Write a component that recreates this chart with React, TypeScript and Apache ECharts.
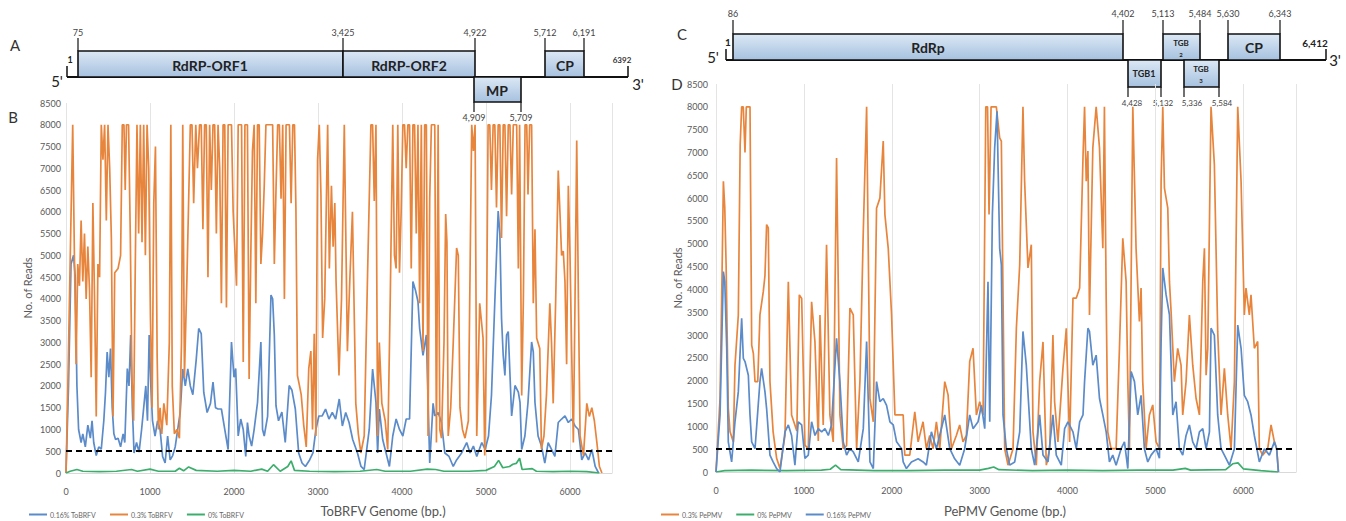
import React, { useEffect, useRef } from "react";
import * as echarts from "echarts";

const FONT = "Lato, 'Noto Sans', sans-serif";
const ORANGE = "#E8853D";
const BLUE = "#5B8BC9";
const GREEN = "#3BAE6C";
const THRESHOLD = 500;

// ToBRFV coverage [bp, reads]
const TOBRFV_016: [number, number][] = [
  [0,0],[30,2000],[60,4800],[90,5000],[110,4500],[130,2000],[150,1000],[180,700],[200,900],[230,600],[260,1100],[290,800],[310,1200],[330,700],[360,400],[390,600],[420,550],[450,1200],[470,1850],[490,2780],[510,2200],[530,2860],[550,1500],[570,900],[590,770],[620,800],[650,600],[680,900],[700,700],[730,2400],[750,2000],[770,3170],[790,1500],[810,460],[840,700],[870,480],[900,1000],[920,1400],[950,2000],[970,1200],[990,3170],[1010,2000],[1030,1200],[1060,850],[1090,1200],[1120,1000],[1150,380],[1180,230],[1210,850],[1240,300],[1270,400],[1300,600],[1330,1000],[1360,1400],[1390,2390],[1420,2000],[1450,2390],[1480,2000],[1510,1800],[1550,2600],[1580,3320],[1610,3200],[1640,1850],[1680,1390],[1720,1600],[1750,2090],[1780,1500],[1810,1470],[1850,1470],[1890,1000],[1930,540],[1970,3010],[2000,2200],[2020,2400],[2050,850],[2080,1240],[2110,1000],[2140,380],[2160,1160],[2180,850],[2210,620],[2240,1000],[2280,1620],[2320,3010],[2340,1000],[2360,850],[2400,1300],[2440,4090],[2460,4000],[2480,3170],[2500,1540],[2530,1200],[2570,1400],[2610,700],[2657,2010],[2690,1900],[2730,1470],[2770,460],[2810,230],[2850,150],[2900,300],[2940,460],[2975,1000],[3010,1310],[3050,1310],[3090,1470],[3130,1240],[3170,1390],[3210,1240],[3253,1700],[3290,1080],[3330,1390],[3370,1160],[3413,770],[3470,460],[3512,150],[3550,80],[3610,1000],[3650,2390],[3690,1620],[3710,460],[3730,1470],[3770,770],[3810,460],[3850,150],[3890,850],[3930,1240],[3970,1000],[4010,850],[4050,1240],[4090,1240],[4130,4400],[4160,4200],[4190,3940],[4210,3320],[4250,2700],[4290,3170],[4330,230],[4370,1600],[4390,1310],[4430,1390],[4470,1160],[4510,460],[4560,380],[4610,150],[4650,300],[4710,460],[4770,700],[4810,460],[4850,620],[4890,380],[4950,700],[4990,540],[5030,850],[5065,1780],[5105,3940],[5145,6020],[5165,5500],[5185,3550],[5205,2700],[5225,2240],[5245,3170],[5265,3250],[5305,1310],[5345,2010],[5385,1860],[5405,1620],[5425,540],[5463,850],[5500,1620],[5543,3010],[5563,2780],[5583,1620],[5620,850],[5660,620],[5700,230],[5740,700],[5780,540],[5820,380],[5860,1160],[5900,1240],[5940,1310],[5980,1160],[6020,1240],[6060,1080],[6100,1000],[6140,300],[6180,460],[6220,300],[6260,540],[6300,150],[6340,0]
];
const TOBRFV_030: [number, number][] = [
  [0,0],[20,1800],[50,4900],[80,8000],[100,5000],[120,2500],[140,4800],[160,4300],[180,5800],[200,4400],[220,5500],[240,4000],[260,5200],[280,4200],[300,2200],[320,6200],[340,4000],[360,1300],[380,4800],[400,4500],[420,8000],[440,7200],[460,8000],[480,5800],[500,8000],[520,7000],[540,5400],[560,1300],[580,4600],[620,4700],[650,5000],[670,8000],[690,8000],[705,6500],[720,8000],[745,8000],[765,5500],[785,2200],[805,1200],[825,4800],[845,8000],[865,5500],[885,8000],[905,5300],[925,8000],[945,5000],[965,8000],[985,7000],[1005,3600],[1025,1500],[1045,6200],[1065,7500],[1085,2700],[1100,1000],[1120,1500],[1140,900],[1165,1600],[1200,1100],[1230,3000],[1248,8000],[1265,2000],[1290,900],[1320,1000],[1350,800],[1375,3000],[1390,8000],[1410,2200],[1440,4500],[1480,8000],[1500,8000],[1520,6200],[1545,8000],[1565,7000],[1590,8000],[1610,8000],[1630,5600],[1650,8000],[1670,8000],[1690,4500],[1710,8000],[1730,6500],[1750,8000],[1770,8000],[1790,5500],[1810,8000],[1830,7000],[1850,3900],[1870,8000],[1890,8000],[1910,3800],[1930,8000],[1950,8000],[1970,8000],[1990,6000],[2030,4300],[2050,8000],[2070,8000],[2090,8000],[2110,2550],[2130,8000],[2160,8000],[2180,2160],[2200,5000],[2220,7400],[2240,8000],[2260,3900],[2280,8000],[2300,8000],[2320,4800],[2340,5500],[2360,6600],[2380,8000],[2400,8000],[2420,8000],[2440,8000],[2460,8000],[2480,4800],[2500,6500],[2520,8000],[2540,8000],[2560,6300],[2580,8000],[2600,4000],[2620,8000],[2640,8000],[2660,8000],[2680,6200],[2700,8000],[2720,8000],[2737,6100],[2755,2240],[2780,2000],[2800,1800],[2830,1100],[2860,600],[2890,2400],[2915,2800],[2935,1000],[2955,3200],[2975,850],[2995,7200],[3015,8000],[3035,6400],[3055,3100],[3080,4000],[3115,8000],[3135,4700],[3160,6600],[3180,5200],[3200,6200],[3215,4400],[3250,2240],[3280,4000],[3313,8000],[3350,2800],[3380,4500],[3410,6000],[3450,1600],[3480,900],[3510,460],[3550,850],[3590,4560],[3630,8000],[3650,8000],[3670,6250],[3690,8000],[3710,850],[3730,3000],[3760,1600],[3800,1200],[3830,540],[3860,4000],[3890,8000],[3910,5000],[3930,4700],[3950,8000],[3970,4600],[3990,6000],[4010,8000],[4030,8000],[4050,7000],[4070,8000],[4090,8000],[4110,4700],[4130,8000],[4150,8000],[4170,5500],[4190,8000],[4210,3900],[4230,8000],[4250,2800],[4270,8000],[4290,8000],[4310,850],[4330,6300],[4350,8000],[4370,8000],[4390,8000],[4410,700],[4430,8000],[4450,1000],[4470,800],[4500,3000],[4520,5950],[4535,5300],[4550,850],[4580,1500],[4610,3000],[4650,5170],[4670,5000],[4690,1500],[4720,1000],[4750,800],[4790,1200],[4830,8000],[4850,7400],[4870,8000],[4890,850],[4925,3900],[4945,3500],[4965,3100],[4985,400],[5005,3000],[5025,8000],[5045,8000],[5065,6500],[5085,8000],[5105,8000],[5125,6100],[5145,8000],[5165,8000],[5185,5400],[5205,8000],[5225,8000],[5245,5900],[5265,8000],[5285,8000],[5305,6400],[5325,8000],[5345,8000],[5365,8000],[5385,4700],[5400,8000],[5425,1780],[5445,4000],[5465,8000],[5485,8000],[5500,6400],[5520,8000],[5543,8000],[5563,3900],[5583,5600],[5603,3100],[5640,2860],[5660,550],[5690,850],[5720,1800],[5760,3900],[5780,3000],[5800,1600],[5830,4000],[5860,6950],[5880,6000],[5900,5000],[5920,5100],[5940,4400],[5960,2500],[5980,6600],[6000,5000],[6020,2780],[6040,700],[6060,4000],[6080,7640],[6100,4000],[6120,850],[6160,400],[6200,1600],[6230,1300],[6260,1500],[6290,1200],[6320,700],[6350,150],[6380,0]
];
const TOBRFV_000: [number, number][] = [
  [0,0],[50,40],[130,80],[200,40],[400,30],[600,40],[780,80],[850,40],[1000,90],[1100,40],[1300,40],[1350,110],[1400,50],[1460,140],[1550,60],[1800,40],[2000,60],[2200,40],[2330,90],[2400,40],[2470,190],[2550,40],[2640,150],[2680,280],[2720,60],[2900,40],[3200,30],[3500,40],[3700,80],[3800,40],[4100,40],[4300,90],[4400,80],[4500,40],[4800,40],[5000,60],[5100,150],[5150,290],[5200,120],[5280,150],[5320,200],[5360,220],[5400,340],[5430,80],[5550,100],[5600,40],[5800,30],[6000,40],[6200,30],[6350,0]
];

// PePMV coverage [bp, reads]
const PEPMV_030: [number, number][] = [
  [0,0],[46,1610],[70,4500],[84,6370],[100,5780],[115,4540],[140,1390],[160,880],[197,660],[216,2340],[254,3440],[275,7170],[292,8000],[310,8000],[330,7000],[345,8000],[365,8000],[387,8000],[406,2780],[425,2600],[444,1980],[475,1980],[500,3440],[538,3950],[557,4300],[576,5420],[595,5350],[614,1980],[650,880],[690,300],[728,75],[785,800],[823,4170],[860,1250],[920,900],[948,3880],[975,3800],[1012,590],[1050,510],[1088,3730],[1126,2850],[1164,680],[1183,3440],[1220,1030],[1258,4980],[1296,1250],[1334,660],[1372,6880],[1391,4170],[1410,1250],[1448,510],[1486,580],[1524,3590],[1562,3440],[1600,510],[1638,2000],[1676,5270],[1714,8000],[1752,1610],[1790,1100],[1827,5780],[1865,6000],[1903,7250],[1922,5640],[1960,4900],[1998,3440],[2036,1250],[2074,1250],[2130,1250],[2148,370],[2205,370],[2262,1320],[2300,660],[2356,1100],[2394,510],[2432,800],[2470,510],[2508,1100],[2546,510],[2603,1980],[2641,1690],[2679,510],[2735,800],[2773,1030],[2811,660],[2849,800],[2887,2420],[2925,2710],[2963,1250],[3001,1540],[3039,1250],[3070,8000],[3090,8000],[3107,5640],[3130,8000],[3160,8000],[3190,8000],[3228,7320],[3247,7250],[3285,510],[3323,150],[3380,510],[3418,3150],[3456,4540],[3493,8000],[3512,6370],[3550,4470],[3588,4980],[3607,880],[3645,150],[3683,1980],[3721,2850],[3759,150],[3797,510],[3834,3000],[3853,1540],[3891,660],[3948,2270],[3986,3150],[4024,660],[4062,3810],[4100,3810],[4138,4030],[4176,6880],[4194,8000],[4213,6370],[4232,7030],[4250,3440],[4288,7100],[4326,8000],[4364,7100],[4402,4900],[4420,8000],[4440,3810],[4458,880],[4496,510],[4553,510],[4591,2710],[4629,5120],[4667,4170],[4686,1980],[4705,510],[4743,8000],[4780,4900],[4818,3300],[4837,4030],[4856,1980],[4894,510],[4932,1250],[4970,1470],[5008,660],[5046,510],[5065,6370],[5084,8000],[5103,6220],[5141,5780],[5160,4170],[5179,3500],[5216,1980],[5254,2710],[5292,2340],[5311,1250],[5349,1980],[5387,3440],[5425,2340],[5463,1610],[5501,1250],[5539,4170],[5558,4900],[5577,2120],[5596,2710],[5633,8000],[5671,6740],[5709,3080],[5747,1250],[5785,2270],[5823,1250],[5861,510],[5899,1980],[5937,8000],[5975,6370],[6012,3440],[6031,4030],[6069,3440],[6088,3880],[6126,2710],[6164,2860],[6183,510],[6221,370],[6278,510],[6316,1030],[6354,660],[6380,510],[6400,0]
];
const PEPMV_000: [number, number][] = [
  [0,0],[100,30],[400,40],[800,30],[1200,40],[1300,60],[1360,150],[1420,50],[1800,30],[2200,30],[2600,40],[3000,40],[3100,80],[3160,110],[3220,50],[3600,30],[4000,40],[4400,30],[4800,40],[5200,40],[5340,80],[5400,40],[5800,50],[5880,180],[5940,200],[6000,70],[6200,30],[6400,0]
];
const PEPMV_016: [number, number][] = [
  [0,0],[46,1250],[84,4390],[100,4170],[122,2710],[140,660],[178,220],[216,1100],[254,1760],[292,3370],[311,2490],[330,2420],[368,2120],[387,1250],[406,660],[444,510],[500,1980],[519,2270],[557,1760],[576,1390],[614,370],[650,220],[690,75],[728,0],[785,880],[823,1030],[860,800],[898,150],[936,1100],[975,1030],[1012,300],[1050,370],[1088,1100],[1126,800],[1164,950],[1202,880],[1240,950],[1278,800],[1315,1030],[1372,2930],[1410,1980],[1448,660],[1486,370],[1524,510],[1562,440],[1619,220],[1676,950],[1714,2860],[1752,220],[1790,75],[1827,1980],[1846,1760],[1865,1540],[1903,1610],[1941,1460],[1979,1100],[2017,1030],[2055,660],[2112,510],[2130,220],[2167,75],[2224,220],[2300,290],[2357,220],[2394,150],[2451,880],[2508,510],[2603,1250],[2660,510],[2716,290],[2773,150],[2830,510],[2887,1250],[2925,950],[2982,1100],[3020,1460],[3058,950],[3095,4170],[3115,1100],[3145,5640],[3171,7100],[3198,7900],[3228,4900],[3247,4540],[3266,1250],[3304,510],[3342,150],[3399,220],[3456,880],[3493,3080],[3531,2340],[3588,510],[3626,150],[3683,1250],[3721,370],[3778,220],[3834,1250],[3872,370],[3929,150],[3967,950],[4005,1100],[4062,880],[4100,510],[4138,1100],[4176,1250],[4194,1980],[4232,3150],[4250,3080],[4288,2340],[4326,2560],[4364,1610],[4402,1250],[4440,880],[4477,220],[4515,370],[4553,150],[4610,510],[4648,660],[4686,75],[4724,2200],[4762,1980],[4799,1250],[4837,1680],[4875,510],[4913,220],[4951,370],[5008,510],[5046,300],[5065,2860],[5084,4470],[5122,3880],[5160,3440],[5198,1250],[5235,1540],[5273,510],[5311,370],[5349,800],[5387,1030],[5425,660],[5463,510],[5501,880],[5539,950],[5577,510],[5615,880],[5633,3150],[5671,3000],[5709,1250],[5747,510],[5785,370],[5842,150],[5899,510],[5937,3220],[5975,2710],[6012,1680],[6050,1540],[6088,1250],[6126,800],[6183,220],[6240,510],[6297,370],[6354,660],[6380,510],[6400,0]
];

// Genome map annotations
const MAP_A_TOP = ["75", "3,425", "4,922", "5,712", "6,191"];
const MAP_A_BOTTOM = ["4,909", "5,709"];
const MAP_C_TOP = ["86", "4,402", "5,113", "5,484", "5,630", "6,343"];
const MAP_C_BOTTOM = ["4,428", "5,132", "5,336", "5,584"];

const GRAD = {
  type: "linear", x: 0, y: 0, x2: 0, y2: 1,
  colorStops: [{ offset: 0, color: "#DCE8F5" }, { offset: 1, color: "#A6C1DF" }],
};

function txt(x: number, y: number, text: string, font: string, fill = "#222", align = "center") {
  return {
    type: "text", x, y, silent: true,
    style: { text, font, fill, align, verticalAlign: "middle", textAlign: align, textVerticalAlign: "middle" },
  };
}
function ln(x1: number, y1: number, x2: number, y2: number, w = 1.2) {
  return { type: "line", silent: true, shape: { x1, y1, x2, y2 }, style: { stroke: "#111", lineWidth: w } };
}
function box(x0: number, x1: number, y0: number, y1: number) {
  return { type: "rect", silent: true, shape: { x: x0, y: y0, width: x1 - x0, height: y1 - y0 }, style: { fill: GRAD, stroke: "#111", lineWidth: 1.6 } };
}

function buildGraphics() {
  const g: any[] = [];
  const bold = (s: number) => `bold ${s}px ${FONT}`;
  const reg = (s: number) => `${s}px ${FONT}`;
  // Panel letters
  g.push(txt(15, 45, "A", reg(15), "#333"));
  g.push(txt(13, 117, "B", reg(15), "#333"));
  g.push(txt(682, 34, "C", reg(15), "#333"));
  g.push(txt(677, 84, "D", reg(15), "#333"));

  // Map A
  const aTopX = [78, 343, 475, 545, 584];
  g.push(ln(67, 77, 628, 77, 2));
  g.push(ln(67, 66, 67, 77, 1.5));
  g.push(ln(628, 66, 628, 77, 1.5));
  aTopX.forEach((x, i) => {
    g.push(ln(x, 38, x, 51));
    g.push(txt(x, 32, MAP_A_TOP[i], reg(9), "#444"));
  });
  const aBotX = [474, 521];
  aBotX.forEach((x, i) => {
    g.push(ln(x, 102, x, 112));
    g.push(txt(x, 117, MAP_A_BOTTOM[i], reg(9), "#444"));
  });
  g.push(box(78, 343, 51, 77));
  g.push(box(343, 475, 51, 77));
  g.push(box(545, 584, 51, 77));
  g.push(box(474, 521, 77, 102));
  g.push(txt(210, 65, "RdRP-ORF1", bold(14)));
  g.push(txt(409, 65, "RdRP-ORF2", bold(14)));
  g.push(txt(565, 65, "CP", bold(14)));
  g.push(txt(497, 90, "MP", bold(14)));
  g.push(txt(70, 59, "1", bold(9)));
  g.push(txt(57, 81, "5'", reg(15), "#222"));
  g.push(txt(622, 60, "6392", bold(8), "#333"));
  g.push(txt(638, 84, "3'", reg(15), "#222"));

  // Map C
  const cTopX = [733, 1123, 1163, 1200, 1228, 1280];
  g.push(ln(726, 60, 1326, 60, 2));
  g.push(ln(726, 49, 726, 60, 1.5));
  g.push(ln(1326, 49, 1326, 60, 1.5));
  cTopX.forEach((x, i) => {
    g.push(ln(x, 20, x, 34));
    g.push(txt(x, 13, MAP_C_TOP[i], reg(9), "#444"));
  });
  const cBotX = [1128, 1161, 1184, 1219];
  const cBotLabelX = [1132, 1163, 1192, 1222];
  cBotX.forEach((x, i) => {
    g.push(ln(x, 87, x, 97));
    g.push(txt(cBotLabelX[i], 103, MAP_C_BOTTOM[i], reg(8), "#444"));
  });
  g.push(box(733, 1123, 34, 60));
  g.push(box(1163, 1200, 34, 60));
  g.push(box(1228, 1280, 34, 60));
  g.push(box(1128, 1161, 60, 87));
  g.push(box(1184, 1219, 60, 87));
  g.push(txt(928, 47, "RdRp", bold(14)));
  g.push(txt(1181, 43, "TGB", bold(8)));
  g.push(txt(1181, 54, "2", bold(6)));
  g.push(txt(1254, 47, "CP", bold(14)));
  g.push(txt(1144, 73, "TGB1", bold(9)));
  g.push(txt(1201, 69, "TGB", bold(8)));
  g.push(txt(1201, 80, "3", bold(6)));
  g.push(txt(728, 42, "1", bold(10)));
  g.push(txt(713, 57, "5'", reg(15), "#222"));
  g.push(txt(1315, 43, "6,412", bold(10), "#222"));
  g.push(txt(1335, 60, "3'", reg(15), "#222"));

  // Axis titles
  g.push(txt(383, 511, "ToBRFV Genome (bp.)", reg(13), "#555"));
  g.push(txt(1005, 511, "PePMV Genome (bp.)", reg(13), "#555"));
  return g;
}

const axisLabelStyle = { fontSize: 9, color: "#595959", fontFamily: FONT, formatter: (v: number) => String(v) };

function lineSeries(name: string, data: [number, number][], color: string, idx: number, withMark = false) {
  const s: any = {
    name, type: "line", data, xAxisIndex: idx, yAxisIndex: idx,
    showSymbol: false, symbol: "none", lineStyle: { color, width: 1.7 }, itemStyle: { color },
    silent: true,
  };
  if (withMark) {
    s.markLine = {
      silent: true, symbol: "none", label: { show: false },
      lineStyle: { color: "#000", type: [6, 4], width: 2 },
      data: [{ yAxis: THRESHOLD }],
    };
  }
  return s;
}

export default function App() {
  const ref = useRef<HTMLDivElement>(null);
  useEffect(() => {
    if (!ref.current) return;
    const chart = echarts.init(ref.current, undefined, { renderer: "svg" });
    const xAxis = (gi: number, max: number) => ({
      type: "value", gridIndex: gi, min: 0, max, interval: 1000,
      axisLine: { show: true, lineStyle: { color: "#D9D9D9" } },
      axisTick: { show: false },
      splitLine: { show: true, lineStyle: { color: "#E4E4E4", width: 1 } },
      axisLabel: { ...axisLabelStyle, margin: 14, showMaxLabel: false },
    });
    const yAxis = (gi: number, gap: number, margin: number) => ({
      type: "value", gridIndex: gi, min: 0, max: 8500, interval: 500,
      axisLine: { show: false }, axisTick: { show: false },
      splitLine: { show: false },
      axisLabel: { ...axisLabelStyle, margin },
      name: "No. of Reads", nameLocation: "middle", nameGap: gap, nameRotate: 90,
      nameTextStyle: { fontSize: 11, color: "#595959", fontFamily: FONT },
    });
    const legendBase = {
      orient: "horizontal", icon: "rect", itemWidth: 18, itemHeight: 2, itemGap: 14,
      textStyle: { fontSize: 7, color: "#666", fontFamily: FONT, padding: [0, 0, 0, -2] },
      selectedMode: false,
    };
    chart.setOption({
      animation: false,
      backgroundColor: "#fff",
      grid: [
        { left: 66, top: 103, width: 546, height: 370 },
        { left: 716, top: 84, width: 580, height: 388 },
      ],
      xAxis: [xAxis(0, 6500), xAxis(1, 6600)],
      yAxis: [yAxis(0, 33, 5), yAxis(1, 33, 8)],
      legend: [
        { ...legendBase, left: 24, top: 506, data: ["0.16% ToBRFV", "0.3% ToBRFV", "0% ToBRFV"] },
        { ...legendBase, left: 656, top: 506, data: ["0.3% PePMV", "0% PePMV", "0.16% PePMV"] },
      ],
      series: [
        lineSeries("0.16% ToBRFV", TOBRFV_016, BLUE, 0),
        lineSeries("0.3% ToBRFV", TOBRFV_030, ORANGE, 0),
        lineSeries("0% ToBRFV", TOBRFV_000, GREEN, 0, true),
        lineSeries("0.3% PePMV", PEPMV_030, ORANGE, 1),
        lineSeries("0% PePMV", PEPMV_000, GREEN, 1),
        lineSeries("0.16% PePMV", PEPMV_016, BLUE, 1, true),
      ],
      graphic: buildGraphics(),
    });
    return () => chart.dispose();
  }, []);
  return <div ref={ref} style={{ position: "fixed", left: 0, top: 0, width: 1346, height: 521, background: "#fff" }} />;
}
